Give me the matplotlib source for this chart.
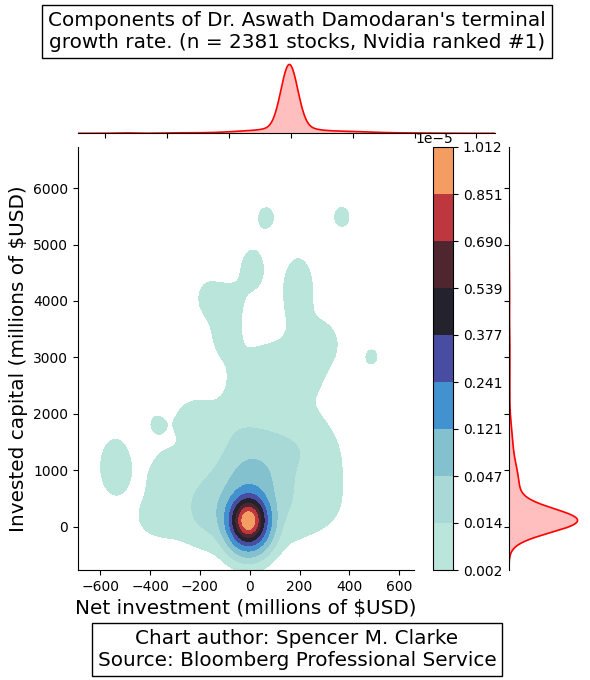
import numpy as np
import matplotlib
matplotlib.use("Agg")
import matplotlib.pyplot as plt
import seaborn as sns

# ---------------- data ----------------
N_STOCKS = 2381
title_text = "Components of Dr. Aswath Damodaran's terminal\ngrowth rate. (n = 2381 stocks, Nvidia ranked #1)"
credit_text = "Chart author: Spencer M. Clarke\nSource: Bloomberg Professional Service"
x_label = "Net investment (millions of $USD)"
y_label = "Invested capital (millions of $USD)"

# groups of stocks (centre, extra spread, number of stocks) estimated from the density picture
cluster_x = [-5, -40, 10, 20, 60, -40, 190, -130, -360, 250, -330, -230, 300, 110,
             -95, -165, -80, 10, 195, 290, -540, -379, 66, 370, 491]
cluster_y = [100, 450, 850, 1100, 1450, 1600, 1350, 170, 150, 300, 900, 1900, 900, 2700,
             3450, 4050, 4000, 4560, 4170, 3300, 1060, 1832, 5490, 5490, 3014]
cluster_sx = [0, 117, 48, 133, 67, 41, 67, 54, 67, 90, 54, 40, 78, 143,
              0, 10, 0, 15, 35, 30, 0, 0, 0, 0, 0]
cluster_sy = [0, 262, 186, 563, 234, 104, 234, 0, 150, 234, 234, 150, 367, 367,
              150, 150, 0, 250, 500, 100, 250, 0, 0, 0, 0]
cluster_stocks = [1683, 213, 156, 117, 25, 15, 33.5, 32, 11, 10.5, 11, 7, 9, 40,
                  6.4, 5.7, 4.5, 7.5, 16, 6.3, 11.6, 3.4, 4.1, 4.2, 3.6]

# KDE kernel widths (2-D joint plot, 1-D marginals)
bw2_x, bw2_y = 44, 260
bw1_x, bw1_y = 27, 212

# colour-bar levels (x 1e-5)
density_levels = [0.002, 0.014, 0.047, 0.121, 0.241, 0.377, 0.539, 0.690, 0.851, 1.012]
x_ticks = [-600, -400, -200, 0, 200, 400, 600]
y_ticks = [0, 1000, 2000, 3000, 4000, 5000, 6000]
x_lim = (-690, 660)
y_lim = (-770, 6730)

# ---------------- density ----------------
def gauss(v, m, s):
    return np.exp(-0.5 * ((v - m) / s) ** 2) / (np.sqrt(2 * np.pi) * s)

gx = np.linspace(x_lim[0], x_lim[1], 600)
gy = np.linspace(y_lim[0], y_lim[1], 900)
Z = np.zeros((gy.size, gx.size))
mx = np.zeros_like(gx)
my = np.zeros_like(gy)
for cx, cy, sx, sy, w in zip(cluster_x, cluster_y, cluster_sx, cluster_sy, cluster_stocks):
    frac = w / N_STOCKS
    Z += frac * np.outer(gauss(gy, cy, np.hypot(bw2_y, sy)), gauss(gx, cx, np.hypot(bw2_x, sx)))
    mx += frac * gauss(gx, cx, np.hypot(bw1_x, sx))
    my += frac * gauss(gy, cy, np.hypot(bw1_y, sy))

levels = np.array(density_levels) * 1e-5
Z = np.minimum(Z, levels[-1])

# ---------------- figure ----------------
fig = plt.figure(figsize=(5.9, 6.8), dpi=100)
W, H = 590.0, 680.0

def box(l, r, t, b):
    return [l / W, 1 - b / H, (r - l) / W, (b - t) / H]

ax = fig.add_axes(box(78, 414, 147, 570))
cax = fig.add_axes(box(433, 453, 147, 570))
ax_my = fig.add_axes(box(509, 581, 147, 570), sharey=ax)
ax_mx = fig.add_axes(box(77.5, 495, 61, 133.3), sharex=ax)

cmap = sns.color_palette("icefire", as_cmap=True)
cs = ax.contourf(gx, gy, Z, levels=levels, cmap=cmap)
cb = fig.colorbar(cs, cax=cax)
cb.ax.tick_params(labelsize=10)
cb.ax.yaxis.get_offset_text().set_fontsize(10)
cb.outline.set_linewidth(0.8)

ax.set_xlim(*x_lim)
ax.set_ylim(*y_lim)
ax.set_xticks(x_ticks)
ax.set_yticks(y_ticks)
ax.tick_params(labelsize=10)
ax.set_xlabel(x_label, fontsize=14.4)
ax.set_ylabel(y_label, fontsize=14.4)
for s in ("top", "right"):
    ax.spines[s].set_visible(False)

# marginal x
ax_mx.fill_between(gx, mx, color="red", alpha=0.25, lw=0)
ax_mx.plot(gx, mx, color="red", lw=1.2)
ax_mx.set_ylim(0, mx.max() * 1.05)
ax_mx.tick_params(labelbottom=False, left=False, labelleft=False)
for s in ("top", "right", "left"):
    ax_mx.spines[s].set_visible(False)

# marginal y
ax_my.fill_betweenx(gy, my, color="red", alpha=0.25, lw=0)
ax_my.plot(my, gy, color="red", lw=1.2)
ax_my.set_xlim(0, my.max() * 1.05)
ax_my.tick_params(labelleft=False, bottom=False, labelbottom=False)
for s in ("top", "right", "bottom"):
    ax_my.spines[s].set_visible(False)

fig.text(297 / W, 1 - 31 / H, title_text, ha="center", va="center", fontsize=14.4,
         bbox=dict(boxstyle="square,pad=0.3", fc="white", ec="black", lw=1))
fig.text(297 / W, 1 - 649 / H, credit_text, ha="center", va="center", fontsize=14.4,
         bbox=dict(boxstyle="square,pad=0.3", fc="white", ec="black", lw=1))

fig.savefig("out.png", dpi=100)
